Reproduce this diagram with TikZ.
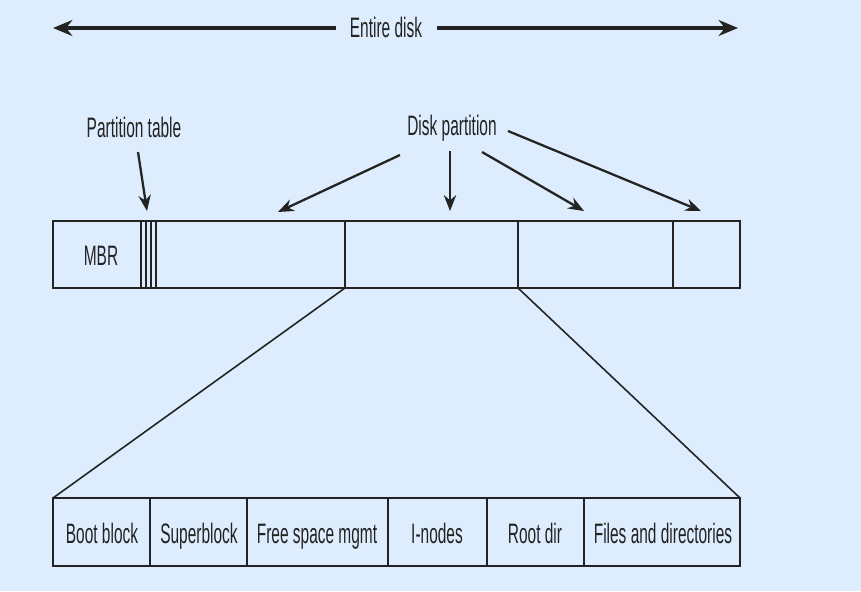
\documentclass[tikz,border=0pt]{standalone}
\usepackage{fontspec}
\setmainfont{Liberation Sans}[FakeStretch=0.55]
\usepackage{tikz}
\usetikzlibrary{arrows.meta,calc,positioning}
\definecolor{bgblue}{RGB}{221,237,253}
\definecolor{ink}{RGB}{35,35,35}

\begin{document}
\begin{tikzpicture}[x=0.02cm,y=-0.02cm,
	lbl/.style={inner sep=0pt,anchor=base,text=ink,font=\fontsize{16}{18}\selectfont},
	box/.style={draw=ink,line width=0.9pt},
	ptr/.style={draw=ink,line width=1.3pt,-{Stealth[length=9pt,width=7pt]}},
	span/.style={draw=ink,line width=1.9pt,-{Stealth[length=11pt,width=9pt]}}]
	\useasboundingbox[fill=bgblue] (0,0) rectangle (861,591);
	% entire disk
	\node[lbl] (disk) at (386,38) {Entire disk};
	\coordinate (dl) at (53,28);
	\coordinate (dr) at (738,28);
	\draw[span] (disk.west |- dl) ++(-14,0) -- (dl);
	\draw[span] (disk.east |- dr) ++(15,0) -- (dr);
	% disk bar
	\draw[box] (53,221) rectangle (740,288);
	\foreach \x in {141,146,151,156,345,518,673}
		\draw[box] (\x,221) -- (\x,288);
	\node[lbl] (mbr) at (101,265) {MBR};
	% labels and pointers
	\node[lbl] (ptab) at (134,138) {Partition table};
	\coordinate (pt) at (147,211);
	\draw[ptr] (138,152) -- (pt);
	\node[lbl] (dpart) at (452,136) {Disk partition};
	\coordinate (p1) at (278,212);
	\coordinate (p2) at (450,211);
	\coordinate (p3) at (584,211);
	\coordinate (p4) at (701,211);
	\draw[ptr] (400,155) -- (p1);
	\draw[ptr] (450,151) -- (p2);
	\draw[ptr] (482,152) -- (p3);
	\draw[ptr] (508,131) -- (p4);
	% partition bar
	\coordinate (a) at (345,288);
	\coordinate (b) at (518,288);
	\coordinate (c) at (53,498);
	\coordinate (d) at (740,498);
	\draw[box] (a) -- (c);
	\draw[box] (b) -- (d);
	\draw[box] (53,498) rectangle (740,566);
	\foreach \x in {150,247,388,487,584}
		\draw[box] (\x,498) -- (\x,566);
	\node[lbl] (boot) at (102,543) {Boot block};
	\node[lbl] (super) at (199,543) {Superblock};
	\node[lbl] (free) at (317,543) {Free space mgmt};
	\node[lbl] (inodes) at (437,543) {I-nodes};
	\node[lbl] (root) at (535,543) {Root dir};
	\node[lbl] (files) at (663,543) {Files and directories};
\end{tikzpicture}
\end{document}
